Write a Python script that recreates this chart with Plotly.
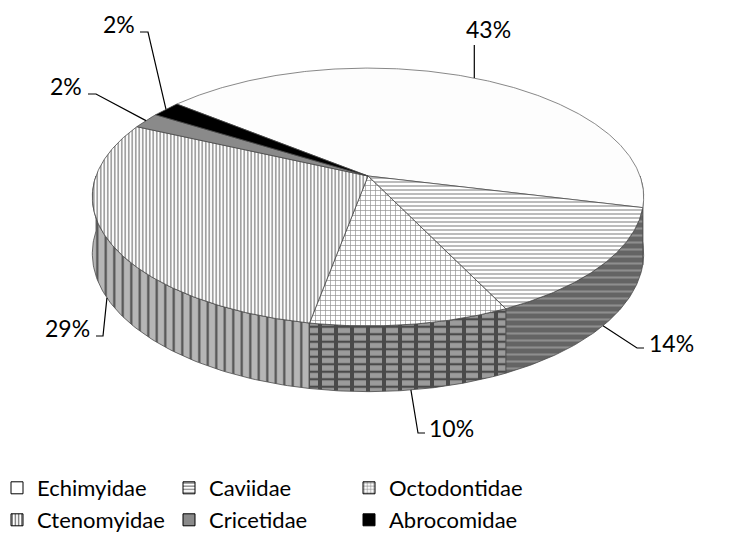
import numpy as np
import plotly.graph_objects as go

# ---------------- data ----------------
categories = ["Echimyidae", "Caviidae", "Octodontidae", "Ctenomyidae", "Cricetidae", "Abrocomidae"]
values = [43, 14, 10, 29, 2, 2]
pct_labels = ["43%", "14%", "10%", "29%", "2%", "2%"]

# ---------------- layout / geometry ----------------
W, H = 729, 544
OFF = 8                    # page body margin compensation
CX, CY = 368, 176          # apex of the pie (screen px)
RX, RY = 272, 125.5        # radii before perspective
U = 0.163                  # perspective strength
DEPTH = 55                 # thickness of the pie
START_DEG = 219.2          # angle where the first slice starts
FONT = "Lato"

top_styles = [
    dict(bg="#fdfdfd", shape="", fg="#fdfdfd", size=8, sol=0.3),
    dict(bg="#ffffff", shape="-", fg="#a0a0a0", size=4, sol=0.35),
    dict(bg="#ffffff", shape="+", fg="#8f8f8f", size=5, sol=0.25),
    dict(bg="#ffffff", shape="|", fg="#8a8a8a", size=3.5, sol=0.4),
    dict(bg="#8a8a8a", shape="", fg="#8a8a8a", size=8, sol=0.3),
    dict(bg="#000000", shape="", fg="#000000", size=8, sol=0.3),
]
side_styles = [
    [dict(bg="#e6e6e6", shape="", fg="#e6e6e6", size=8, sol=0.3)],
    [dict(bg="#646464", shape="-", fg="#8e8e8e", size=7, sol=0.3)],
    [dict(bg="#9c9c9c", shape="|", fg="#4a4a4a", size=16, sol=0.25),
     dict(bg="rgba(0,0,0,0)", shape="-", fg="#4a4a4a", size=7.5, sol=0.3)],
    [dict(bg="#b6b6b6", shape="|", fg="#505050", size=8.5, sol=0.25)],
    [dict(bg="#6a6a6a", shape="", fg="#6a6a6a", size=8, sol=0.3)],
    [dict(bg="#000000", shape="", fg="#000000", size=8, sol=0.3)],
]
legend_styles = [
    dict(bg="#ffffff", shape="", fg="#000000", size=8, sol=0.3),
    dict(bg="#ffffff", shape="-", fg="#707070", size=4, sol=0.35),
    dict(bg="#ffffff", shape="+", fg="#707070", size=4, sol=0.3),
    dict(bg="#ffffff", shape="|", fg="#505050", size=4, sol=0.35),
    dict(bg="#8a8a8a", shape="", fg="#8a8a8a", size=8, sol=0.3),
    dict(bg="#000000", shape="", fg="#000000", size=8, sol=0.3),
]
# legend entry placement (page px: text start x, row centre y)
legend_text_x = [37, 209, 389, 37, 209, 389]
legend_row_y = [488, 488, 488, 520, 520, 520]
LEG_TEXT_OFFSET = 40       # text start relative to legend box left

# leader line knee/end points and label anchors (layout)
leader_pts = [
    [(None, 45)],
    [(637, 348), (644, 348)],
    [(418, 433), (425, 433)],
    [(103, 336), (96, 336)],
    [(96, 94), (88, 94)],
    [(148, 32), (140, 32)],
]
label_anchor = [
    (488, 29, "center"),
    (647, 343, "left"),
    (427, 428, "left"),
    (92, 328, "right"),
    (84, 86, "right"),
    (137, 24, "right"),
]
OUTLINE = "#4a4a4a"


def proj(theta_deg, drop=0.0):
    t = np.radians(theta_deg)
    d = 1 - U * np.sin(t)
    x = CX + RX * np.cos(t) / d
    y = CY + (RY * np.sin(t) + drop) / d
    return x, y


def pattern(st):
    return dict(shape=st["shape"], fgcolor=st["fg"], bgcolor=st["bg"],
                size=st["size"], solidity=st["sol"], fillmode="replace")


total = float(sum(values))
bounds = [START_DEG]
for v in values:
    bounds.append(bounds[-1] + 360.0 * v / total)

fig = go.Figure()

# ---- side walls (front half only) ----
for i, v in enumerate(values):
    a0, a1 = bounds[i], bounds[i + 1]
    for off in (0, 360):
        lo, hi = max(a0, off + 0), min(a1, off + 180)
        if hi <= lo:
            continue
        th = np.linspace(lo, hi, 80)
        xt, yt = proj(th)
        xb, yb = proj(th[::-1], DEPTH)
        xs = np.concatenate([xt, xb, xt[:1]])
        ys = np.concatenate([yt, yb, yt[:1]])
        for k, st in enumerate(side_styles[i]):
            fig.add_trace(go.Scatter(
                x=xs, y=ys, mode="lines", fill="toself",
                fillcolor=st["bg"], fillpattern=pattern(st),
                line=dict(color=OUTLINE, width=0.8 if k == len(side_styles[i]) - 1 else 0),
                hoverinfo="skip", showlegend=False))

# ---- top faces ----
for i, v in enumerate(values):
    a0, a1 = bounds[i], bounds[i + 1]
    th = np.linspace(a0, a1, max(int((a1 - a0) * 2), 8))
    xa, ya = proj(th)
    xs = np.concatenate([[CX], xa, [CX]])
    ys = np.concatenate([[CY], ya, [CY]])
    st = top_styles[i]
    fig.add_trace(go.Scatter(
        x=xs, y=ys, mode="lines", fill="toself",
        fillcolor=st["bg"], fillpattern=pattern(st),
        line=dict(color="#6a6a6a" if i == 0 else OUTLINE, width=0.8),
        hoverinfo="skip", showlegend=False))

# ---- leader lines + labels ----
for i, v in enumerate(values):
    mid = (bounds[i] + bounds[i + 1]) / 2.0
    front = np.sin(np.radians(mid)) > 0
    sx, sy = proj(mid, DEPTH if front else 0)
    px, py = [float(sx)], [float(sy)]
    for (kx, ky) in leader_pts[i]:
        px.append(float(sx) if kx is None else kx)
        py.append(ky)
    fig.add_trace(go.Scatter(x=px, y=py, mode="lines",
                             line=dict(color="#000000", width=1.2),
                             hoverinfo="skip", showlegend=False))
    ax, ay, al = label_anchor[i]
    fig.add_annotation(x=ax, y=ay, text=pct_labels[i], showarrow=False,
                       xanchor=al, yanchor="middle",
                       font=dict(family=FONT, size=23, color="#000000"))

# ---- legend entries (one legend per entry for exact placement) ----
legend_layout = {}
for i, name in enumerate(categories):
    st = legend_styles[i]
    lname = "legend" if i == 0 else "legend%d" % (i + 1)
    fig.add_trace(go.Bar(x=[None], y=[None], name=name, legend=lname,
                         marker=dict(color=st["bg"], line=dict(color="#000000", width=1),
                                     pattern=pattern(st)),
                         showlegend=True, hoverinfo="skip"))
    legend_layout[lname] = dict(
        x=(legend_text_x[i] - LEG_TEXT_OFFSET - OFF) / W,
        y=1 - (legend_row_y[i] - OFF) / H,
        xanchor="left", yanchor="middle",
        orientation="h",
        font=dict(family=FONT, size=22, color="#000000"),
        bgcolor="rgba(0,0,0,0)", borderwidth=0,
    )

fig.update_layout(
    width=W, height=H,
    margin=dict(l=0, r=0, t=0, b=0, autoexpand=False),
    paper_bgcolor="white", plot_bgcolor="white",
    xaxis=dict(range=[OFF, W + OFF], visible=False, fixedrange=True),
    yaxis=dict(range=[H + OFF, OFF], visible=False, fixedrange=True),
    showlegend=True,
    **legend_layout,
)

fig.write_html("out.html")
